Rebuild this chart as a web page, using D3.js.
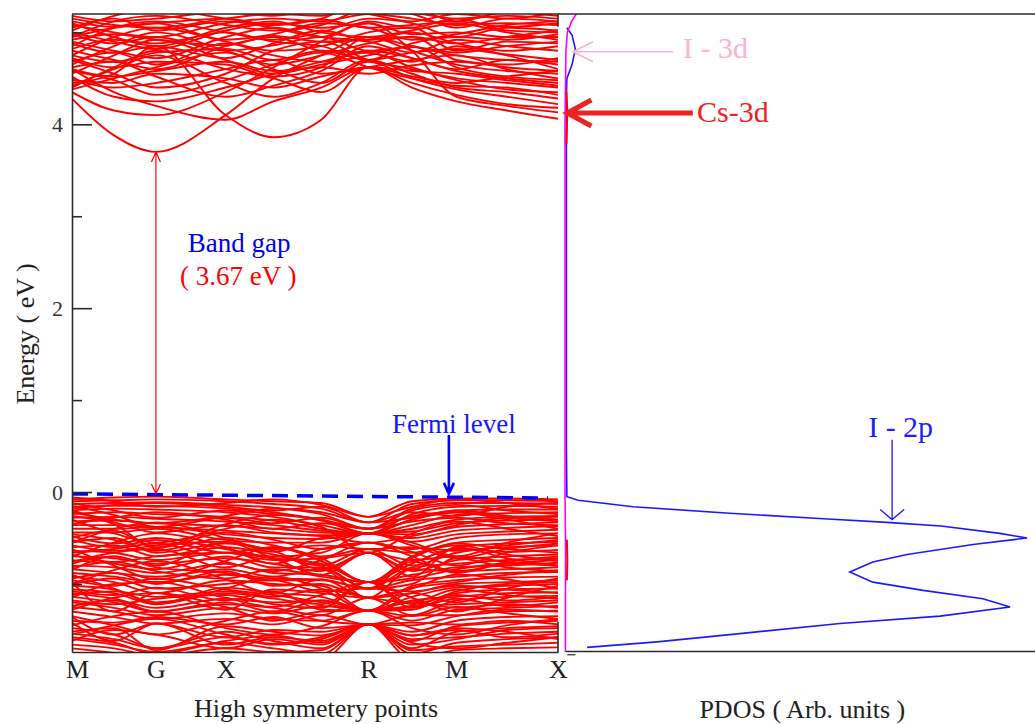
<!DOCTYPE html>
<html>
<head>
<meta charset="utf-8">
<script src="https://cdn.jsdelivr.net/npm/d3@7"></script>
<style>
  body { margin: 0; background: #fff; }
  svg text { font-family: "Liberation Serif", "Times New Roman", serif; }
</style>
</head>
<body>
<svg id="chart" width="1035" height="724"></svg>
<script>
// k-path sample points (distance along M-G-X-R-M-X)
const kPath = [0, 0.5, 1.0, 1.83, 2.4, 2.97, 3.53, 4.05, 4.58, 5.18, 5.79];
const kTickPos = [0, 1.0, 1.83, 3.53, 4.58, 5.79];
const kTickLabels = ["M", "G", "X", "R", "M", "X"];
const energyMajor = [0, 2, 4];
const energyMinor = [-1, 1, 3, 5];

// conduction bands, energy (eV) at each kPath point
const conductionBands = [
  [4.28, 3.88, 3.70, 4.10, 4.50, 4.75, 4.95, 4.85, 4.75, 4.70, 4.68],
  [4.45, 4.55, 4.85, 4.10, 3.86, 4.05, 4.62, 4.40, 4.25, 4.15, 4.06],
  [4.35, 4.15, 4.10, 4.35, 4.62, 4.90, 5.10, 4.80, 4.30, 4.20, 4.13],
  [4.60, 4.35, 4.20, 4.05, 4.25, 4.40, 4.62, 4.45, 4.32, 4.22, 4.18],
  [4.50, 4.40, 4.45, 4.60, 4.70, 4.55, 4.62, 4.70, 4.75, 4.60, 4.50],
  [4.42, 4.60, 4.75, 4.45, 4.30, 4.45, 4.70, 4.55, 4.40, 4.35, 4.28],
  [4.70, 4.55, 4.40, 4.55, 4.80, 4.90, 4.70, 4.60, 4.50, 4.45, 4.40],
  [4.55, 4.75, 4.92, 4.70, 4.55, 4.65, 4.75, 4.85, 4.62, 4.52, 4.48],
  [4.80, 4.70, 4.60, 4.85, 4.95, 4.80, 4.78, 4.68, 4.85, 4.75, 4.60],
  [4.65, 4.85, 5.00, 4.80, 4.65, 4.75, 4.88, 4.95, 4.70, 4.65, 4.72],
  [4.90, 4.80, 4.72, 4.95, 5.05, 4.95, 4.90, 4.78, 4.92, 4.85, 4.80],
  [4.75, 4.95, 5.05, 4.90, 4.80, 4.85, 5.00, 5.05, 4.80, 4.90, 4.88],
  [5.00, 4.90, 4.82, 5.02, 5.10, 5.05, 5.10, 4.98, 5.00, 4.95, 4.95],
  [4.85, 5.05, 5.12, 5.00, 4.92, 5.00, 5.15, 5.10, 4.95, 5.05, 5.02],
  [5.08, 5.00, 4.95, 5.10, 5.15, 5.12, 5.20, 5.15, 5.08, 5.10, 5.08],
  [4.95, 5.12, 5.18, 5.08, 5.02, 5.08, 5.25, 5.20, 5.05, 5.15, 5.12],
  [5.15, 5.08, 5.05, 5.15, 5.20, 5.18, 5.30, 5.22, 5.15, 5.18, 5.15],
  [5.02, 5.18, 5.25, 5.15, 5.08, 5.15, 5.35, 5.28, 5.12, 5.22, 5.18],
  [4.38, 4.50, 4.62, 4.78, 4.60, 4.45, 4.68, 4.50, 4.38, 4.30, 4.22],
  [4.52, 4.30, 4.25, 4.40, 4.55, 4.68, 4.78, 4.62, 4.48, 4.38, 4.35],
  [4.62, 4.68, 4.52, 4.30, 4.42, 4.58, 4.85, 4.72, 4.58, 4.50, 4.45],
  [4.72, 4.62, 4.68, 4.65, 4.52, 4.62, 4.95, 4.80, 4.65, 4.58, 4.55],
  [5.10, 4.95, 4.85, 5.05, 5.12, 5.00, 4.95, 5.02, 5.10, 5.00, 4.92],
  [4.95, 5.05, 5.10, 4.92, 4.98, 5.10, 5.05, 4.92, 4.98, 5.08, 5.12],
  [5.05, 5.15, 5.02, 5.12, 5.05, 4.95, 5.12, 5.05, 5.15, 5.02, 5.00],
  [4.88, 4.78, 4.85, 4.72, 4.88, 5.02, 4.92, 5.00, 4.88, 4.80, 4.85],
  [4.68, 4.78, 4.65, 4.88, 4.75, 4.68, 4.80, 4.72, 4.60, 4.70, 4.65],
  [4.48, 4.45, 4.55, 4.50, 4.40, 4.52, 4.62, 4.58, 4.55, 4.48, 4.42],
  [4.58, 4.48, 4.32, 4.48, 4.65, 4.78, 4.62, 4.50, 4.42, 4.40, 4.32],
  [5.18, 5.12, 5.15, 5.22, 5.18, 5.25, 5.20, 5.12, 5.20, 5.15, 5.22],
  [4.82, 4.92, 4.88, 5.00, 4.90, 4.85, 4.70, 4.88, 4.95, 4.92, 4.98],
  [4.40, 4.62, 4.80, 4.60, 4.50, 4.35, 4.62, 4.52, 4.45, 4.52, 4.58],
  [4.75, 4.68, 4.78, 4.82, 4.70, 4.80, 4.70, 4.78, 4.82, 4.76, 4.70],
  [4.92, 4.98, 4.92, 4.86, 4.96, 4.90, 4.92, 4.95, 4.88, 4.95, 5.02],
  [5.12, 5.06, 5.10, 5.15, 5.08, 5.14, 5.05, 5.08, 5.12, 5.06, 5.10],
  [4.60, 4.52, 4.58, 4.68, 4.58, 4.62, 4.55, 4.64, 4.68, 4.62, 4.58],
  [4.98, 4.88, 4.95, 4.80, 4.86, 4.95, 4.80, 4.84, 4.78, 4.85, 4.90]
];

// valence bands
const valenceBands = [
  [-0.08, -0.06, -0.05, -0.08, -0.10, -0.12, -0.27, -0.10, -0.07, -0.07, -0.08],
  [-0.10, -0.09, -0.08, -0.10, -0.13, -0.18, -0.33, -0.13, -0.09, -0.09, -0.10],
  [-0.13, -0.12, -0.11, -0.14, -0.17, -0.24, -0.40, -0.18, -0.12, -0.12, -0.13],
  [-0.16, -0.15, -0.15, -0.18, -0.22, -0.31, -0.45, -0.24, -0.16, -0.15, -0.16],
  [-0.20, -0.18, -0.19, -0.22, -0.27, -0.36, -0.45, -0.30, -0.20, -0.19, -0.19],
  [-0.24, -0.22, -0.24, -0.27, -0.31, -0.40, -0.45, -0.36, -0.25, -0.23, -0.22],
  [-0.28, -0.27, -0.29, -0.32, -0.36, -0.42, -0.45, -0.40, -0.30, -0.27, -0.26],
  [-0.32, -0.31, -0.34, -0.37, -0.40, -0.44, -0.45, -0.43, -0.34, -0.31, -0.30],
  [-0.36, -0.36, -0.38, -0.42, -0.45, -0.47, -0.45, -0.46, -0.38, -0.35, -0.33],
  [-0.40, -0.40, -0.38, -0.46, -0.50, -0.51, -0.45, -0.50, -0.42, -0.39, -0.37],
  [-0.44, -0.44, -0.40, -0.52, -0.55, -0.55, -0.45, -0.54, -0.46, -0.43, -0.41],
  [-0.12, -0.20, -0.28, -0.20, -0.24, -0.30, -0.40, -0.20, -0.14, -0.20, -0.24],
  [-0.50, -0.42, -0.61, -0.44, -0.52, -0.62, -0.55, -0.62, -0.50, -0.46, -0.45],
  [-0.46, -0.52, -0.64, -0.50, -0.58, -0.72, -0.98, -0.72, -0.55, -0.52, -0.50],
  [-0.55, -0.50, -0.66, -0.56, -0.64, -0.84, -0.66, -0.84, -0.60, -0.56, -0.54],
  [-0.60, -0.58, -0.70, -0.60, -0.68, -0.80, -0.62, -0.80, -0.66, -0.60, -0.58],
  [-0.64, -0.66, -0.74, -0.66, -0.72, -0.78, -0.98, -0.78, -0.62, -0.65, -0.63],
  [-0.70, -0.72, -0.78, -0.72, -0.78, -0.86, -0.66, -0.86, -0.74, -0.70, -0.68],
  [-0.74, -0.78, -0.84, -0.70, -0.82, -0.82, -1.05, -0.82, -0.78, -0.74, -0.72],
  [-0.80, -0.82, -0.88, -0.78, -0.88, -0.90, -0.98, -0.90, -0.82, -0.80, -0.77],
  [-0.84, -0.88, -0.92, -0.84, -0.92, -0.84, -1.15, -0.84, -0.86, -0.84, -0.82],
  [-0.88, -0.92, -0.98, -0.90, -0.96, -0.96, -1.05, -0.96, -0.92, -0.88, -0.87],
  [-0.92, -0.98, -1.10, -0.96, -1.00, -1.02, -1.29, -1.02, -0.96, -0.93, -0.92],
  [-0.98, -1.30, -1.10, -1.28, -1.06, -1.10, -1.15, -1.10, -1.00, -0.98, -0.96],
  [-1.02, -1.06, -1.22, -1.04, -1.10, -1.14, -1.29, -1.14, -1.04, -1.02, -1.00],
  [-1.06, -1.10, -1.22, -1.10, -1.16, -1.22, -0.98, -1.22, -1.10, -1.06, -1.05],
  [-1.10, -1.16, -1.26, -1.16, -1.20, -1.18, -1.29, -1.18, -1.14, -1.10, -1.09],
  [-1.14, -1.20, -1.30, -1.22, -1.26, -1.34, -1.15, -1.34, -1.18, -1.14, -1.13],
  [-0.48, -0.56, -0.50, -0.62, -0.70, -0.66, -0.45, -0.58, -0.72, -0.62, -0.56],
  [-0.66, -0.62, -0.56, -0.76, -0.86, -0.74, -0.55, -0.70, -0.88, -0.76, -0.70],
  [-0.78, -0.70, -0.82, -0.88, -0.94, -0.95, -1.05, -1.00, -0.72, -0.82, -0.86],
  [-0.96, -1.02, -0.94, -1.06, -1.12, -1.20, -1.29, -1.25, -1.08, -1.00, -0.98],
  [-1.20, -1.26, -1.34, -1.26, -1.32, -1.24, -1.29, -1.24, -1.22, -1.20, -1.18],
  [-1.25, -1.30, -1.38, -1.32, -1.38, -1.40, -1.29, -1.40, -1.28, -1.26, -1.24],
  [-1.30, -1.36, -1.43, -1.38, -1.44, -1.34, -1.44, -1.34, -1.34, -1.30, -1.29],
  [-1.36, -1.55, -1.43, -1.58, -1.50, -1.52, -1.44, -1.52, -1.40, -1.36, -1.35],
  [-1.42, -1.62, -1.43, -1.66, -1.58, -1.62, -1.44, -1.62, -1.46, -1.42, -1.40],
  [-1.48, -1.55, -1.70, -1.52, -1.62, -1.70, -1.44, -1.70, -1.52, -1.48, -1.46],
  [-1.54, -1.60, -1.70, -1.58, -1.66, -1.60, -1.44, -1.60, -1.58, -1.54, -1.52],
  [-1.60, -1.66, -1.74, -1.64, -1.70, -1.76, -1.44, -1.76, -1.64, -1.60, -1.58],
  [-1.66, -1.70, -1.78, -1.70, -1.74, -1.72, -1.44, -1.72, -1.68, -1.66, -1.64],
  [-1.70, -1.75, -1.82, -1.74, -1.78, -1.82, -1.44, -1.82, -1.72, -1.70, -1.69],
  [-0.20, -0.35, -0.60, -0.35, -0.25, -0.30, -0.45, -0.30, -0.22, -0.30, -0.40],
  [-0.30, -0.45, -0.55, -0.40, -0.30, -0.38, -0.66, -0.45, -0.32, -0.40, -0.48],
  [-0.55, -0.40, -0.33, -0.50, -0.65, -0.50, -0.45, -0.55, -0.70, -0.55, -0.45],
  [-0.70, -0.55, -0.45, -0.60, -0.78, -0.62, -0.55, -0.65, -0.80, -0.66, -0.58],
  [-0.85, -0.70, -0.80, -0.55, -0.72, -0.90, -0.66, -0.92, -0.60, -0.72, -0.80],
  [-0.62, -0.80, -0.95, -0.75, -0.60, -0.75, -0.98, -0.70, -0.58, -0.68, -0.75],
  [-1.00, -0.85, -0.75, -0.95, -1.10, -0.95, -1.15, -1.05, -0.90, -0.95, -1.05],
  [-0.90, -1.05, -1.20, -1.05, -0.92, -1.05, -1.29, -1.10, -1.20, -1.05, -0.94],
  [-1.15, -1.00, -0.98, -1.15, -1.25, -1.12, -0.98, -1.15, -1.30, -1.15, -1.02],
  [-1.28, -1.15, -1.10, -1.25, -1.40, -1.30, -1.29, -1.35, -1.25, -1.32, -1.38],
  [-1.35, -1.45, -1.55, -1.40, -1.30, -1.40, -1.44, -1.45, -1.35, -1.28, -1.30],
  [-1.45, -1.35, -1.30, -1.48, -1.55, -1.46, -1.29, -1.48, -1.55, -1.45, -1.38],
  [-1.55, -1.45, -1.38, -1.55, -1.65, -1.58, -1.44, -1.56, -1.48, -1.52, -1.60],
  [-1.62, -1.50, -1.55, -1.70, -1.60, -1.66, -1.44, -1.66, -1.60, -1.50, -1.48],
  [-0.15, -0.25, -0.38, -0.26, -0.18, -0.22, -0.33, -0.28, -0.20, -0.26, -0.30],
  [-0.35, -0.28, -0.22, -0.30, -0.40, -0.34, -0.40, -0.32, -0.28, -0.34, -0.36],
  [-0.26, -0.33, -0.44, -0.36, -0.44, -0.48, -0.55, -0.48, -0.36, -0.28, -0.27],
  [-0.52, -0.60, -0.52, -0.66, -0.60, -0.70, -0.62, -0.66, -0.56, -0.62, -0.66],
  [-0.76, -0.66, -0.62, -0.82, -0.70, -0.80, -1.05, -0.76, -0.86, -0.78, -0.74],
  [-0.94, -0.88, -1.00, -0.86, -1.02, -1.00, -1.15, -1.04, -0.98, -0.90, -0.85],
  [-1.08, -1.12, -1.04, -1.18, -1.08, -1.28, -1.29, -1.28, -1.12, -1.18, -1.14],
  [-1.18, -1.22, -1.16, -1.12, -1.22, -1.26, -0.98, -1.26, -1.16, -1.24, -1.20],
  [-0.06, -0.10, -0.16, -0.12, -0.08, -0.14, -0.27, -0.16, -0.08, -0.12, -0.18],
  [-0.18, -0.14, -0.12, -0.16, -0.20, -0.16, -0.33, -0.22, -0.26, -0.16, -0.12],
  [-0.22, -0.30, -0.34, -0.28, -0.34, -0.28, -0.40, -0.26, -0.22, -0.28, -0.32],
  [-0.58, -0.64, -0.58, -0.54, -0.62, -0.58, -0.62, -0.60, -0.64, -0.58, -0.52],
  [-0.68, -0.76, -0.70, -0.66, -0.74, -0.72, -0.66, -0.74, -0.70, -0.76, -0.80],
  [-0.82, -0.76, -0.86, -0.94, -0.84, -0.92, -0.98, -0.94, -0.84, -0.78, -0.80],
  [-1.00, -0.94, -1.05, -1.00, -0.96, -1.08, -1.05, -1.08, -1.02, -1.06, -1.10],
  [-1.12, -1.08, -1.14, -1.08, -1.14, -1.06, -1.15, -1.20, -1.06, -1.12, -1.16],
  [-1.24, -1.18, -1.30, -1.20, -1.30, -1.18, -1.29, -1.20, -1.26, -1.22, -1.26],
  [-1.40, -1.42, -1.36, -1.44, -1.36, -1.48, -1.44, -1.42, -1.44, -1.40, -1.44],
  [-1.52, -1.48, -1.72, -1.46, -1.52, -1.56, -1.44, -1.56, -1.50, -1.58, -1.54],
  [-1.58, -1.64, -1.76, -1.62, -1.56, -1.64, -1.44, -1.64, -1.70, -1.64, -1.58]
];

// PDOS curves: [energy (eV), density (arb.)]
const pdosI2p = [
  [5.05, 0.04], [4.97, 0.15], [4.82, 0.22], [4.65, 0.15], [4.50, 0.04], [4.30, 0.03],
  [3.00, 0.03], [0.50, 0.03], [-0.05, 0.04], [-0.09, 0.28], [-0.16, 1.45], [-0.23, 3.5],
  [-0.29, 5.5], [-0.33, 6.85], [-0.37, 8.0], [-0.45, 9.25], [-0.50, 9.83], [-0.57, 8.68],
  [-0.68, 7.28], [-0.76, 6.55], [-0.87, 6.06], [-0.98, 6.55], [-1.07, 7.62], [-1.16, 8.89],
  [-1.25, 9.47], [-1.35, 7.98], [-1.43, 5.85], [-1.54, 3.72], [-1.63, 1.96], [-1.69, 0.47]
];
const pdosOther = [
  [5.20, 0.24], [5.12, 0.14], [5.00, 0.05], [4.80, 0.02], [4.00, 0.0], [0.0, 0.0],
  [-0.50, 0.01], [-1.00, 0.01], [-1.74, 0.01]
];
const pdosCs3dUpper = [[4.35, 0.03], [4.15, 0.05], [3.95, 0.04], [3.78, 0.03]];
const pdosCs3dLower = [[-0.52, 0.04], [-0.75, 0.05], [-0.96, 0.04]];

const svg = d3.select("#chart");

const y = d3.scaleLinear().domain([-1.74, 5.2]).range([652, 14]);
const x = d3.scaleLinear().domain([0, 5.79]).range([72, 558]);
const xp = d3.scaleLinear().domain([0, 10]).range([565, 1035]);

svg.append("clipPath").attr("id", "bandClip")
  .append("rect")
  .attr("x", x(0)).attr("y", y(5.2))
  .attr("width", x(5.79) - x(0)).attr("height", y(-1.74) - y(5.2));

// bands
const bandLine = d3.line()
  .x((d, i) => x(kPath[i]))
  .y(d => y(d))
  .curve(d3.curveMonotoneX);

const gb = svg.append("g").attr("clip-path", "url(#bandClip)");
gb.selectAll("path.band")
  .data(conductionBands.concat(valenceBands))
  .join("path")
  .attr("class", "band")
  .attr("d", bandLine)
  .attr("fill", "none")
  .attr("stroke", "#ff0000")
  .attr("stroke-width", 1.9);

// fermi level (dashed)
svg.append("line")
  .attr("x1", x(0)).attr("y1", y(-0.02))
  .attr("x2", x(5.67)).attr("y2", y(-0.065))
  .attr("stroke", "#0000ff")
  .attr("stroke-width", 3.5)
  .attr("stroke-dasharray", "16 9");

// PDOS curves
const pdosLine = d3.line().x(d => xp(d[1])).y(d => y(d[0]));
svg.append("path").datum(pdosI2p).attr("d", pdosLine)
  .attr("fill", "none").attr("stroke", "#1a1aff").attr("stroke-width", 1.6);
svg.append("path").datum(pdosOther).attr("d", pdosLine)
  .attr("fill", "none").attr("stroke", "#ff00ff").attr("stroke-width", 1.6);
[pdosCs3dUpper, pdosCs3dLower].forEach(s => {
  svg.append("path").datum(s).attr("d", pdosLine)
    .attr("fill", "none").attr("stroke", "#ff0000").attr("stroke-width", 2);
});

// axes
const frame = "#2a2a2a";
const yAxis = svg.append("g")
  .attr("transform", `translate(${x(0)},0)`)
  .call(d3.axisLeft(y).tickValues(energyMajor).tickSizeInner(-20).tickSizeOuter(0)
    .tickPadding(9).tickFormat(d3.format("d")));
yAxis.select(".domain").attr("stroke", frame).attr("stroke-width", 1.6);
yAxis.selectAll(".tick line").attr("stroke", frame).attr("stroke-width", 1.6);
yAxis.selectAll(".tick text")
  .attr("font-family", "'Liberation Sans', Arial, sans-serif")
  .attr("font-size", 22).attr("fill", "#333");

const yMinor = svg.append("g")
  .attr("transform", `translate(${x(0)},0)`)
  .call(d3.axisLeft(y).tickValues(energyMinor).tickSizeInner(-10).tickSizeOuter(0).tickFormat(""));
yMinor.select(".domain").remove();
yMinor.selectAll(".tick line").attr("stroke", frame).attr("stroke-width", 1.6);

const xAxis = svg.append("g")
  .attr("transform", `translate(0,${y(-1.74)})`)
  .call(d3.axisBottom(x).tickValues(kTickPos).tickSizeInner(0).tickSizeOuter(0).tickPadding(8)
    .tickFormat((d, i) => kTickLabels[i]));
xAxis.select(".domain").attr("stroke", frame).attr("stroke-width", 1.6);
xAxis.selectAll(".tick text")
  .attr("font-family", "'Liberation Serif', 'Times New Roman', serif")
  .attr("font-size", 26).attr("fill", "#222")
  .attr("dx", (d, i) => i === 0 ? 5 : 0);

// frame lines
svg.append("line").attr("x1", x(0)).attr("x2", xp(10)).attr("y1", y(5.2)).attr("y2", y(5.2))
  .attr("stroke", frame).attr("stroke-width", 1.6);
svg.append("line").attr("x1", x(5.79)).attr("x2", x(5.79)).attr("y1", y(5.2)).attr("y2", y(5.06))
  .attr("stroke", frame).attr("stroke-width", 1.6);
svg.append("line").attr("x1", x(5.79)).attr("x2", x(5.79)).attr("y1", y(-1.41)).attr("y2", y(-1.74))
  .attr("stroke", frame).attr("stroke-width", 1.6);
svg.append("line").attr("x1", xp(0.02)).attr("x2", xp(10)).attr("y1", y(-1.735)).attr("y2", y(-1.735))
  .attr("stroke", frame).attr("stroke-width", 1.6);
svg.append("line").attr("x1", xp(0.05)).attr("x2", xp(0.22)).attr("y1", y(-1.77)).attr("y2", y(-1.77))
  .attr("stroke", frame).attr("stroke-width", 1.2);

// axis titles
svg.append("text")
  .attr("transform", `translate(34,${y(1.72)}) rotate(-90)`)
  .attr("text-anchor", "middle").attr("font-size", 26).attr("fill", "#222")
  .text("Energy ( eV )");
svg.append("text")
  .attr("x", (x(0) + x(5.79)) / 2 + 1).attr("y", 717)
  .attr("text-anchor", "middle").attr("font-size", 26).attr("fill", "#222")
  .text("High symmetery points");
svg.append("text")
  .attr("x", xp(5.05)).attr("y", 718)
  .attr("text-anchor", "middle").attr("font-size", 26).attr("fill", "#222")
  .text("PDOS ( Arb. units )");

// annotations
const ann = svg.append("g");
function arrow(x1, y1, x2, y2, color, w, hl, hw, both) {
  const a = Math.atan2(y2 - y1, x2 - x1);
  const head = (px, py, ang) => {
    const bx = px - hl * Math.cos(ang), by = py - hl * Math.sin(ang);
    return `M${bx + hw * Math.sin(ang)},${by - hw * Math.cos(ang)}L${px},${py}L${bx - hw * Math.sin(ang)},${by + hw * Math.cos(ang)}`;
  };
  let d = `M${x1},${y1}L${x2},${y2}` + head(x2, y2, a);
  if (both) d += head(x1, y1, a + Math.PI);
  ann.append("path").attr("d", d).attr("fill", "none")
    .attr("stroke", color).attr("stroke-width", w).attr("stroke-linejoin", "miter");
}

// band gap
arrow(x(1.0), y(-0.02), x(1.0), y(3.70), "#ff0000", 1.2, 10, 4.5, true);
ann.append("text").attr("x", x(1.99)).attr("y", y(2.61))
  .attr("text-anchor", "middle").attr("font-size", 27).attr("fill", "#0000ee").text("Band gap");
ann.append("text").attr("x", x(1.98)).attr("y", y(2.25))
  .attr("text-anchor", "middle").attr("font-size", 27).attr("fill", "#ff0000").text("( 3.67 eV )");

// fermi level
arrow(x(4.49), y(0.62), x(4.49), y(-0.02), "#0000ff", 2.6, 11, 5, false);
ann.append("text").attr("x", x(4.55)).attr("y", y(0.645))
  .attr("text-anchor", "middle").attr("font-size", 27).attr("fill", "#1515ff").text("Fermi level");

// I - 2p
arrow(xp(6.96), y(0.57), xp(6.96), y(-0.30), "#1a1aff", 1.3, 10, 12, false);
ann.append("text").attr("x", xp(6.45)).attr("y", y(0.60))
  .attr("font-size", 30).attr("fill", "#2020ff").text("I - 2p");

// I - 3d
arrow(xp(2.3), y(4.79), xp(0.17), y(4.79), "#ffb3c6", 1.6, 20, 10, false);
ann.append("text").attr("x", xp(2.51)).attr("y", y(4.72))
  .attr("font-size", 30).attr("fill", "#ffb3c6").text("I - 3d");

// Cs-3d
arrow(xp(2.72), y(4.123), xp(0.05), y(4.123), "#ee2222", 5, 24, 13, false);
ann.append("text").attr("x", xp(2.81)).attr("y", y(4.025))
  .attr("font-size", 30).attr("fill", "#ee2222").text("Cs-3d");
</script>
</body>
</html>
